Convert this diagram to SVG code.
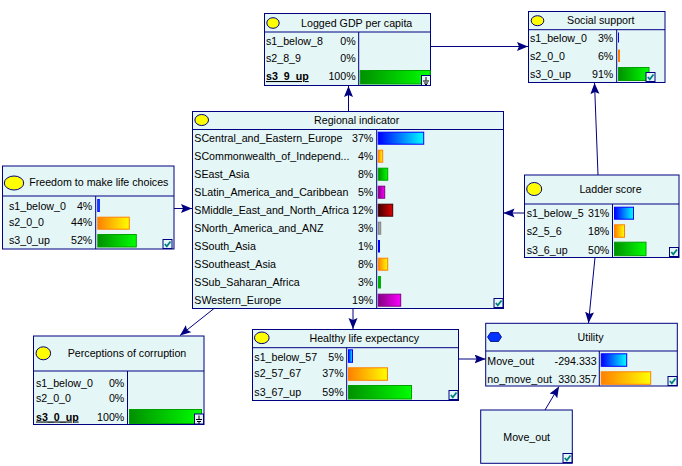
<svg xmlns="http://www.w3.org/2000/svg" width="682" height="466" viewBox="0 0 682 466">
<defs>
<style>
.box{fill:#e5f6f7;stroke:#000080;stroke-width:1}
.ln{stroke:#000080;stroke-width:1;fill:none}
text{font-family:"Liberation Sans",Arial,sans-serif;font-size:10.67px;fill:#000}
.t{text-anchor:middle}
.r{text-anchor:end}
.ev{font-weight:bold;text-decoration:underline}
.icon{fill:#ffff00;stroke:#000080;stroke-width:1}
.chk{fill:#e5f6f7;stroke:#000080;stroke-width:1}
.ck{fill:none;stroke:#008080;stroke-width:1.8}
.gnd{stroke:#000;stroke-width:1;fill:none}
.conn{stroke:#000080;stroke-width:1;fill:none;marker-end:url(#arr)}
.bB{fill:url(#gB);stroke:#0000ff}
.bO{fill:url(#gO);stroke:#ff8000}
.bG{fill:url(#gG);stroke:#00a000}
.bP{fill:url(#gP);stroke:#800080}
.bR{fill:url(#gR);stroke:#400000}
.bY{fill:url(#gY);stroke:#808080}
</style>
<linearGradient id="gB"><stop offset="0" stop-color="#0000ff"/><stop offset="1" stop-color="#00ffff"/></linearGradient>
<linearGradient id="gO"><stop offset="0" stop-color="#ff8000"/><stop offset="1" stop-color="#ffff00"/></linearGradient>
<linearGradient id="gG"><stop offset="0" stop-color="#009000"/><stop offset="1" stop-color="#00ff00"/></linearGradient>
<linearGradient id="gP"><stop offset="0" stop-color="#800080"/><stop offset="1" stop-color="#ff00ff"/></linearGradient>
<linearGradient id="gR"><stop offset="0" stop-color="#400000"/><stop offset="1" stop-color="#e00000"/></linearGradient>
<linearGradient id="gY"><stop offset="0" stop-color="#808080"/><stop offset="1" stop-color="#c0c0c0"/></linearGradient>
<marker id="arr" markerUnits="userSpaceOnUse" markerWidth="12" markerHeight="10" refX="11" refY="4.5" orient="auto">
<path d="M0,0 L11,4.5 L0,9 L2,4.5 z" fill="#000080"/>
</marker>
<g id="check"><rect class="chk" x="0" y="0" width="9" height="9"/><path class="ck" d="M1.8,4.5 L3.8,6.8 L7.5,2"/></g>
<g id="ground"><rect class="chk" x="0" y="0" width="9" height="10"/><path class="gnd" d="M4.5,1.5 V5 M1.5,5.5 H7.5 M2.5,7.5 H6.5 M3.5,9 H5.5"/></g>
</defs>
<rect x="0" y="0" width="682" height="466" fill="#ffffff"/>

<g id="connectors">
<line class="conn" x1="431" y1="46.5" x2="528" y2="46.5"/>
<line class="conn" x1="348.5" y1="111" x2="348.5" y2="86"/>
<line class="conn" x1="174" y1="208.5" x2="192" y2="208.5"/>
<line class="conn" x1="524" y1="213" x2="503.5" y2="213"/>
<line class="conn" x1="598" y1="175" x2="594.5" y2="83"/>
<line class="conn" x1="595" y1="257.5" x2="588.5" y2="323"/>
<line class="conn" x1="214" y1="308.5" x2="180" y2="335.5"/>
<line class="conn" x1="353" y1="308.5" x2="353" y2="329"/>
<line class="conn" x1="458.5" y1="359" x2="485.5" y2="359"/>
<line class="conn" x1="545" y1="410" x2="559" y2="386.5"/>
</g>

<g id="gdp">
<rect class="box" x="264.5" y="13.5" width="166" height="72"/>
<line class="ln" x1="264.5" y1="32" x2="430.5" y2="32"/>
<line class="ln" x1="358.7" y1="32" x2="358.7" y2="85.5"/>
<ellipse class="icon" cx="273" cy="23" rx="6.2" ry="5.3"/>
<text class="t" x="356.7" y="27">Logged GDP per capita</text>
<text x="266" y="45">s1_below_8</text><text class="r" x="355.7" y="45">0%</text>
<text x="266" y="62">s2_8_9</text><text class="r" x="355.7" y="62">0%</text>
<text class="ev" x="266" y="80">s3_9_up</text><text class="r" x="355.7" y="80">100%</text>
<rect class="bG" x="360.2" y="70.5" width="70" height="13.5"/>
<use href="#ground" x="421.5" y="75.5"/>
</g>

<g id="social">
<rect class="box" x="528.5" y="11.5" width="136.5" height="71"/>
<line class="ln" x1="528.5" y1="29.7" x2="665" y2="29.7"/>
<line class="ln" x1="616.7" y1="29.7" x2="616.7" y2="82.5"/>
<ellipse class="icon" cx="537.5" cy="20.7" rx="6.3" ry="5"/>
<text class="t" x="600.8" y="23.8">Social support</text>
<text x="530" y="42">s1_below_0</text><text class="r" x="613.3" y="42">3%</text>
<text x="530" y="59.5">s2_0_0</text><text class="r" x="613.3" y="59.5">6%</text>
<text x="530" y="78">s3_0_up</text><text class="r" x="613.3" y="78">91%</text>
<rect x="618" y="32.5" width="1" height="10" fill="#0000ff"/>
<rect x="618" y="49.5" width="2" height="12.5" fill="#ff8000"/>
<rect class="bG" x="618.5" y="67.5" width="30.5" height="13"/>
<use href="#check" x="646" y="72.5"/>
</g>

<g id="regional">
<rect class="box" x="192.5" y="111.5" width="311" height="197"/>
<line class="ln" x1="192.5" y1="129.5" x2="503.5" y2="129.5"/>
<line class="ln" x1="376.7" y1="129.5" x2="376.7" y2="308.5"/>
<ellipse class="icon" cx="201.7" cy="120" rx="6.8" ry="5.5"/>
<text class="t" x="356.7" y="124">Regional indicator</text>
<text x="194.3" y="142.3">SCentral_and_Eastern_Europe</text><text class="r" x="373.3" y="142.3">37%</text>
<text x="194.3" y="160.3">SCommonwealth_of_Independ...</text><text class="r" x="373.3" y="160.3">4%</text>
<text x="194.3" y="178.3">SEast_Asia</text><text class="r" x="373.3" y="178.3">8%</text>
<text x="194.3" y="196.3">SLatin_America_and_Caribbean</text><text class="r" x="373.3" y="196.3">5%</text>
<text x="194.3" y="214.3">SMiddle_East_and_North_Africa</text><text class="r" x="373.3" y="214.3">12%</text>
<text x="194.3" y="232.3">SNorth_America_and_ANZ</text><text class="r" x="373.3" y="232.3">3%</text>
<text x="194.3" y="250.3">SSouth_Asia</text><text class="r" x="373.3" y="250.3">1%</text>
<text x="194.3" y="268.3">SSoutheast_Asia</text><text class="r" x="373.3" y="268.3">8%</text>
<text x="194.3" y="286.3">SSub_Saharan_Africa</text><text class="r" x="373.3" y="286.3">3%</text>
<text x="194.3" y="304.3">SWestern_Europe</text><text class="r" x="373.3" y="304.3">19%</text>
<rect class="bB" x="378.2" y="132.2" width="45.5" height="12"/>
<rect class="bO" x="378.2" y="150.2" width="4.5" height="12"/>
<rect class="bG" x="378.2" y="168.2" width="9.5" height="12"/>
<rect class="bP" x="378.2" y="186.2" width="6.5" height="12"/>
<rect class="bR" x="378.2" y="204.2" width="14.5" height="12"/>
<rect class="bY" x="378.2" y="222.2" width="2.5" height="12"/>
<rect x="378" y="240" width="2" height="12.5" fill="#0000ff"/>
<rect class="bO" x="378.2" y="258.2" width="9.5" height="12"/>
<rect x="378" y="276" width="3" height="12.5" fill="#00b000"/>
<rect class="bP" x="378.2" y="294.2" width="22.5" height="12"/>
<use href="#check" x="494" y="298.5"/>
</g>

<g id="freedom">
<rect class="box" x="2.5" y="166" width="171.5" height="83"/>
<line class="ln" x1="2.5" y1="196" x2="174" y2="196"/>
<line class="ln" x1="95.7" y1="196" x2="95.7" y2="249"/>
<ellipse class="icon" cx="14" cy="183" rx="9.7" ry="7"/>
<text class="t" x="98.8" y="185.5">Freedom to make life choices</text>
<text x="9" y="209.5">s1_below_0</text><text class="r" x="92.3" y="209.5">4%</text>
<text x="9" y="225.5">s2_0_0</text><text class="r" x="92.3" y="225.5">44%</text>
<text x="9" y="244">s3_0_up</text><text class="r" x="92.3" y="244">52%</text>
<rect class="bB" x="97.8" y="199.5" width="1.5" height="12"/>
<rect class="bO" x="97.8" y="217.2" width="31.5" height="12"/>
<rect class="bG" x="97.8" y="234.5" width="38.5" height="12.5"/>
<use href="#check" x="163" y="239.5"/>
</g>

<g id="ladder">
<rect class="box" x="524.5" y="175" width="154.5" height="82.5"/>
<line class="ln" x1="524.5" y1="204" x2="679" y2="204"/>
<line class="ln" x1="612.5" y1="204" x2="612.5" y2="257.5"/>
<ellipse class="icon" cx="534.2" cy="189" rx="7.5" ry="6.5"/>
<text class="t" x="610.5" y="193">Ladder score</text>
<text x="526.7" y="217">s1_below_5</text><text class="r" x="609.3" y="217">31%</text>
<text x="526.7" y="235">s2_5_6</text><text class="r" x="609.3" y="235">18%</text>
<text x="526.7" y="254">s3_6_up</text><text class="r" x="609.3" y="254">50%</text>
<rect class="bB" x="614.5" y="207.2" width="19" height="12"/>
<rect class="bO" x="614.5" y="224.8" width="10" height="12.5"/>
<rect class="bG" x="614.5" y="242.2" width="31.5" height="13.5"/>
<use href="#check" x="669.5" y="247.5"/>
</g>

<g id="perceptions">
<rect class="box" x="33.5" y="336" width="170.5" height="88.5"/>
<line class="ln" x1="33.5" y1="371" x2="204" y2="371"/>
<line class="ln" x1="127.5" y1="371" x2="127.5" y2="424.5"/>
<ellipse class="icon" cx="43.3" cy="353.3" rx="7.3" ry="6.5"/>
<text class="t" x="127" y="357">Perceptions of corruption</text>
<text x="36" y="386.5">s1_below_0</text><text class="r" x="124.3" y="386.5">0%</text>
<text x="36" y="402">s2_0_0</text><text class="r" x="124.3" y="402">0%</text>
<text class="ev" x="36" y="420.5">s3_0_up</text><text class="r" x="124.3" y="420.5">100%</text>
<rect class="bG" x="129.5" y="409.5" width="72" height="14"/>
<use href="#ground" x="194.5" y="414"/>
</g>

<g id="healthy">
<rect class="box" x="252.5" y="329.5" width="206" height="71"/>
<line class="ln" x1="252.5" y1="347.7" x2="458.5" y2="347.7"/>
<line class="ln" x1="346.7" y1="347.7" x2="346.7" y2="400.5"/>
<ellipse class="icon" cx="261.8" cy="337.8" rx="7.3" ry="5.8"/>
<text class="t" x="364.3" y="342">Healthy life expectancy</text>
<text x="254.3" y="360.5">s1_below_57</text><text class="r" x="343.7" y="360.5">5%</text>
<text x="254.3" y="377">s2_57_67</text><text class="r" x="343.7" y="377">37%</text>
<text x="254.3" y="395.5">s3_67_up</text><text class="r" x="343.7" y="395.5">59%</text>
<rect class="bB" x="348.5" y="349.8" width="4" height="12.5"/>
<rect class="bO" x="348.5" y="367.8" width="39" height="12.5"/>
<rect class="bG" x="348.5" y="385.5" width="63" height="13.5"/>
<use href="#check" x="449" y="390.5"/>
</g>

<g id="utility">
<rect class="box" x="485.7" y="323.3" width="191.6" height="62.7"/>
<line class="ln" x1="485.7" y1="351" x2="677.3" y2="351"/>
<line class="ln" x1="599.3" y1="351" x2="599.3" y2="386"/>
<polygon points="487.5,337 490.5,332.5 498.5,332.5 501.5,337 498.5,341.5 490.5,341.5" fill="#0033ff" stroke="#000080" stroke-width="0.8"/>
<text class="t" x="590.5" y="341">Utility</text>
<text x="487.3" y="364.5">Move_out</text><text class="r" x="596.7" y="364.5">-294.333</text>
<text x="487.3" y="383">no_move_out</text><text class="r" x="596.7" y="383">330.357</text>
<rect class="bB" x="601.2" y="353.8" width="25.5" height="12.5"/>
<rect class="bO" x="601.2" y="371.8" width="49.5" height="12.5"/>
<use href="#check" x="668" y="376.5"/>
</g>

<g id="move_out">
<rect class="box" x="480.7" y="410" width="91.6" height="53.3"/>
<text class="t" x="526.7" y="441">Move_out</text>
<use href="#check" x="563" y="453.5"/>
</g>
</svg>
